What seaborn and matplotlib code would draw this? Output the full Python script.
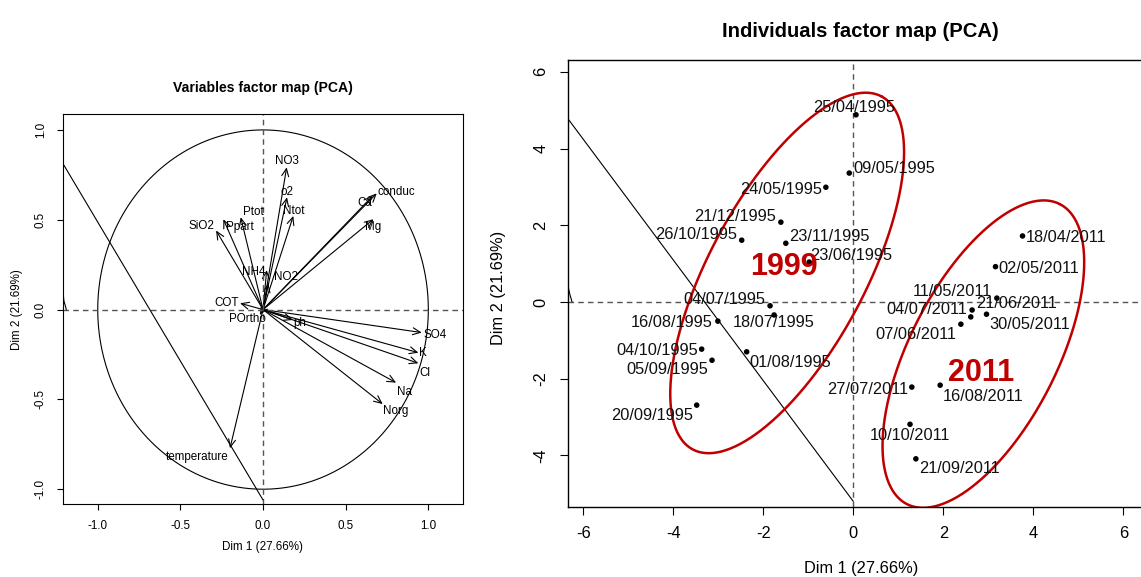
import numpy as np
import pandas as pd
import matplotlib
matplotlib.use("Agg")
import matplotlib.pyplot as plt
from matplotlib.patches import FancyArrowPatch
import seaborn as sns

# ---- variables: coordinates on Dim 1 / Dim 2 (correlation circle) ----
var_names = ["NO3", "o2", "Ntot", "Ptot", "Ppart", "SiO2", "NH4", "NO2",
             "Ca", "conduc", "Mg", "COT", "POrtho", "ph", "SO4", "K", "Cl",
             "Na", "Norg", "temperature"]
var_dim1 = [0.143, 0.145, 0.183, -0.135, -0.240, -0.284, 0.022, 0.032,
            0.664, 0.688, 0.668, -0.139, -0.020, 0.180, 0.960, 0.940, 0.940,
            0.805, 0.724, -0.200]
var_dim2 = [0.792, 0.625, 0.521, 0.514, 0.503, 0.440, 0.220, 0.146,
            0.633, 0.647, 0.503, 0.035, -0.030, -0.058, -0.128, -0.240, -0.299,
            -0.407, -0.526, -0.772]

# ---- individuals: sampling dates on Dim 1 / Dim 2 ----
dates = ["25/04/1995", "09/05/1995", "24/05/1995", "21/12/1995", "26/10/1995",
         "23/11/1995", "23/06/1995", "04/07/1995", "18/07/1995", "16/08/1995",
         "04/10/1995", "05/09/1995", "01/08/1995", "20/09/1995",
         "18/04/2011", "02/05/2011", "11/05/2011", "21/06/2011", "04/07/2011",
         "30/05/2011", "07/06/2011", "27/07/2011", "16/08/2011", "10/10/2011",
         "21/09/2011"]
ind_dim1 = [0.06, -0.09, -0.61, -1.61, -2.48, -1.50, -0.98, -1.85, -1.76, -3.01,
            -3.37, -3.14, -2.37, -3.48,
            3.76, 3.16, 3.19, 2.64, 2.61, 2.96, 2.39, 1.30, 1.93, 1.26, 1.39]
ind_dim2 = [4.88, 3.36, 2.99, 2.08, 1.61, 1.53, 1.04, -0.10, -0.34, -0.50,
            -1.23, -1.52, -1.30, -2.69,
            1.72, 0.92, 0.10, -0.21, -0.39, -0.32, -0.58, -2.22, -2.17, -3.19,
            -4.09]

# stray straight segments present on both maps
var_stray_x = [-1.212, 0.0]
var_stray_y = [0.815, -1.06]
ind_stray_x = [-6.35, 0.0]
ind_stray_y = [4.79, -5.20]

# group ellipses: centre, major and minor half-axis vectors (data units)
groups = ["1999", "2011"]
group_centre = [(-1.47, 0.756), (2.89, -1.36)]
group_major = [(2.10, 4.60), (1.70, 3.91)]
group_minor = [(-1.53, 0.96), (-1.46, 0.876)]
group_label_xy = [(-1.54, 0.92), (2.83, -1.84)]

# ---- label placement ----
var_label_pos = {
    "NO3": (0.143, 0.829), "o2": (0.143, 0.655), "Ntot": (0.187, 0.549),
    "Ptot": (-0.059, 0.543), "Ppart": (-0.143, 0.462), "SiO2": (-0.371, 0.467),
    "NH4": (-0.054, 0.209), "NO2": (0.141, 0.180), "Ca": (0.613, 0.592),
    "conduc": (0.809, 0.655), "Mg": (0.668, 0.462), "COT": (-0.220, 0.035),
    "POrtho": (-0.095, -0.054), "ph": (0.220, -0.076), "SO4": (1.040, -0.141),
    "K": (0.970, -0.243), "Cl": (0.980, -0.351), "Na": (0.855, -0.457),
    "Norg": (0.803, -0.563), "temperature": (-0.397, -0.822),
}
# (dx px, dy px, horizontal alignment)
ind_label_off = {
    "25/04/1995": (-2, 7, "center"), "09/05/1995": (4, 5, "left"),
    "24/05/1995": (-4, -2, "right"), "21/12/1995": (-5, 6, "right"),
    "26/10/1995": (-5, 6, "right"), "23/11/1995": (3, 7, "left"),
    "23/06/1995": (1, 7, "left"), "04/07/1995": (-5, 6, "right"),
    "18/07/1995": (0, -8, "center"), "16/08/1995": (-5, -1, "right"),
    "04/10/1995": (-4, -1, "right"), "05/09/1995": (-4, -9, "right"),
    "01/08/1995": (3, -11, "left"), "20/09/1995": (-4, -10, "right"),
    "18/04/2011": (3, -2, "left"), "02/05/2011": (3, -2, "left"),
    "11/05/2011": (-5, 7, "right"), "21/06/2011": (4, 7, "left"),
    "04/07/2011": (-4, 7, "right"), "30/05/2011": (3, -10, "left"),
    "07/06/2011": (-5, -10, "right"), "27/07/2011": (-4, -2, "right"),
    "16/08/2011": (3, -11, "left"), "10/10/2011": (0, -11, "center"),
    "21/09/2011": (3, -10, "left"),
}

sns.set_style("white")
plt.rcParams["font.family"] = ["Liberation Sans", "DejaVu Sans"]
plt.rcParams["axes.unicode_minus"] = False
for key in ("text.color", "axes.labelcolor", "xtick.color", "ytick.color"):
    plt.rcParams[key] = "black"

W, H = 1141, 577
fig = plt.figure(figsize=(W / 100, H / 100), dpi=100)

ax1 = fig.add_axes([62.7 / W, 1 - 504.3 / H, 400 / W, 390 / H])
ax2 = fig.add_axes([567.7 / W, 1 - 507 / H, (W - 567.7) / W, 446.7 / H])

DASH = dict(color="#555555", lw=1.0, dashes=(4, 3))
RED = "#C00000"

# ------------------ variables factor map ------------------
ax1.set_xlim(-1.212, 1.208)
ax1.set_ylim(-1.084, 1.087)
t = np.linspace(0, 2 * np.pi, 400)
ax1.plot(np.cos(t), np.sin(t), color="black", lw=0.8)
ax1.axhline(0, **DASH)
ax1.axvline(0, **DASH)
ax1.plot(var_stray_x, var_stray_y, color="black", lw=0.8)
ax1.plot([-1.212, -1.205, -1.19], [0.12, 0.05, 0.0], color="black", lw=0.8)

for name, vx, vy in zip(var_names, var_dim1, var_dim2):
    arr = FancyArrowPatch((0, 0), (vx, vy),
                          arrowstyle="->,head_length=0.55,head_width=0.25",
                          mutation_scale=10, color="black", lw=0.8,
                          shrinkA=0, shrinkB=0)
    ax1.add_patch(arr)
    lx, ly = var_label_pos[name]
    ax1.text(lx, ly, name, fontsize=8.4, ha="center", va="center")

ax1.set_xticks([-1.0, -0.5, 0.0, 0.5, 1.0])
ax1.set_yticks([-1.0, -0.5, 0.0, 0.5, 1.0])
ax1.set_xticklabels(["-1.0", "-0.5", "0.0", "0.5", "1.0"])
ax1.set_yticklabels(["-1.0", "-0.5", "0.0", "0.5", "1.0"])
ax1.tick_params(axis="both", direction="out", length=4.5, width=0.8,
                labelsize=8.4, bottom=True, left=True, pad=7)
for lab in ax1.get_yticklabels():
    lab.set_rotation(90)
    lab.set_va("center")
for sp in ax1.spines.values():
    sp.set_visible(True)
    sp.set_color("black")
    sp.set_linewidth(0.8)
ax1.set_xlabel("Dim 1 (27.66%)", fontsize=8.4)
ax1.set_ylabel("Dim 2 (21.69%)", fontsize=8.4)
ax1.xaxis.set_label_coords(0.5, -0.093)
ax1.yaxis.set_label_coords(-0.10, 0.5)
ax1.set_title("Variables factor map (PCA)", fontsize=10.1,
              fontweight="bold", pad=16)

# ------------------ individuals factor map ------------------
ind = pd.DataFrame({"date": dates, "dim1": ind_dim1, "dim2": ind_dim2})
ax2.set_xlim(-6.347, 6.393)
ax2.set_ylim(-5.346, 6.30)
ax2.axhline(0, **DASH)
ax2.axvline(0, **DASH)
ax2.plot(ind_stray_x, ind_stray_y, color="black", lw=0.8)
ax2.plot([-6.347, -6.30, -6.25], [0.45, 0.2, 0.0], color="black", lw=0.8)

sns.scatterplot(data=ind, x="dim1", y="dim2", color="black", s=16,
                edgecolor="none", ax=ax2, zorder=3)
for d, x, y in zip(ind["date"], ind["dim1"], ind["dim2"]):
    dx, dy, ha = ind_label_off[d]
    ax2.annotate(d, (x, y), xytext=(dx * 0.72, dy * 0.72),
                 textcoords="offset points", ha=ha, va="center",
                 fontsize=11.8, color="#111111")

tt = np.linspace(0, 2 * np.pi, 400)
for g, c, u, v, lxy in zip(groups, group_centre, group_major, group_minor,
                           group_label_xy):
    ex = c[0] + u[0] * np.cos(tt) + v[0] * np.sin(tt)
    ey = c[1] + u[1] * np.cos(tt) + v[1] * np.sin(tt)
    ax2.plot(ex, ey, color=RED, lw=1.8)
    ax2.text(lxy[0], lxy[1], g, color=RED, fontsize=22, fontweight="bold",
             ha="center", va="center")

ax2.set_xticks([-6, -4, -2, 0, 2, 4, 6])
ax2.set_yticks([-4, -2, 0, 2, 4, 6])
ax2.tick_params(axis="both", direction="out", length=6, width=0.8,
                labelsize=11.8, bottom=True, left=True, pad=8)
for lab in ax2.get_yticklabels():
    lab.set_rotation(90)
    lab.set_va("center")
for name, sp in ax2.spines.items():
    sp.set_color("black")
    sp.set_linewidth(1.0)
ax2.spines["right"].set_visible(False)
ax2.set_xlabel("Dim 1 (27.66%)", fontsize=11.8)
ax2.set_ylabel("Dim 2 (21.69%)", fontsize=11.8)
ax2.xaxis.set_label_coords(0.511, -0.122)
ax2.yaxis.set_label_coords(-0.108, 0.49)
ax2.set_title("Individuals factor map (PCA)", fontsize=14.6,
              fontweight="bold", pad=17, x=0.511)

fig.savefig("out.png", dpi=100)
